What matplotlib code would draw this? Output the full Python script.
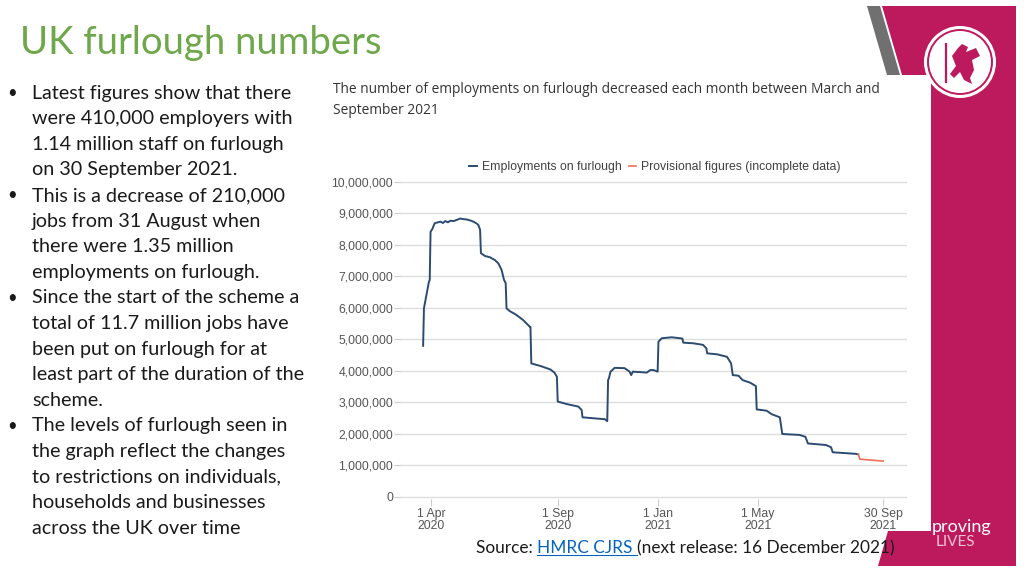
import matplotlib
matplotlib.use("Agg")
import matplotlib.pyplot as plt
import pandas as pd
from matplotlib.patches import Polygon, Circle
from matplotlib.ticker import FuncFormatter

# Employments on furlough (millions)
furlough_dates = [
    "2020-03-22", "2020-03-23", "2020-03-26", "2020-03-29", "2020-03-30", "2020-03-31",
    "2020-04-02", "2020-04-05", "2020-04-09", "2020-04-12", "2020-04-15", "2020-04-18",
    "2020-04-21", "2020-04-24", "2020-04-28", "2020-05-02", "2020-05-06", "2020-05-10",
    "2020-05-14", "2020-05-18", "2020-05-22", "2020-05-26", "2020-05-28", "2020-05-30",
    "2020-05-31", "2020-06-05", "2020-06-11", "2020-06-17", "2020-06-21", "2020-06-25",
    "2020-06-28", "2020-06-30", "2020-07-01", "2020-07-05", "2020-07-13", "2020-07-21",
    "2020-07-29", "2020-07-30", "2020-07-31", "2020-08-11", "2020-08-23", "2020-08-28",
    "2020-08-31", "2020-09-01", "2020-09-12", "2020-09-26", "2020-09-30", "2020-10-01",
    "2020-10-14", "2020-10-28", "2020-10-31", "2020-11-01", "2020-11-02", "2020-11-04",
    "2020-11-09", "2020-11-21", "2020-11-27", "2020-11-29", "2020-12-01", "2020-12-18",
    "2020-12-22", "2020-12-26", "2020-12-31", "2021-01-01", "2021-01-05", "2021-01-17",
    "2021-01-27", "2021-01-30", "2021-01-31", "2021-02-12", "2021-02-24", "2021-02-28",
    "2021-03-01", "2021-03-13", "2021-03-25", "2021-03-30", "2021-04-01", "2021-04-08",
    "2021-04-13", "2021-04-22", "2021-04-29", "2021-04-30", "2021-05-12", "2021-05-18",
    "2021-05-28", "2021-05-31", "2021-06-21", "2021-06-28", "2021-07-01", "2021-07-23",
    "2021-07-29", "2021-07-31", "2021-08-28", "2021-08-31",
]
furlough_millions = [
    4.80, 5.99, 6.41, 6.83, 6.89, 8.42,
    8.50, 8.69, 8.72, 8.74, 8.70, 8.76,
    8.72, 8.77, 8.76, 8.80, 8.84, 8.82,
    8.81, 8.78, 8.74, 8.68, 8.63, 8.48,
    7.74, 7.65, 7.61, 7.52, 7.42, 7.21,
    6.89, 6.79, 5.99, 5.90, 5.78, 5.62,
    5.41, 5.40, 4.24, 4.16, 4.05, 3.95,
    3.82, 3.03, 2.95, 2.87, 2.76, 2.53,
    2.50, 2.47, 2.41, 3.71, 3.77, 3.98,
    4.10, 4.09, 3.98, 3.87, 3.98, 3.95,
    4.03, 4.03, 3.98, 4.93, 5.04, 5.07,
    5.04, 5.03, 4.90, 4.88, 4.83, 4.72,
    4.56, 4.53, 4.45, 4.24, 3.87, 3.85,
    3.71, 3.63, 3.52, 2.78, 2.74, 2.63,
    2.53, 2.00, 1.97, 1.91, 1.70, 1.65,
    1.58, 1.42, 1.37, 1.35,
]

# Provisional figures (incomplete data)
provisional_dates = ["2021-08-31", "2021-09-02", "2021-09-30"]
provisional_millions = [1.35, 1.20, 1.14]

tick_dates = ["2020-04-01", "2020-09-01", "2021-01-01", "2021-05-01", "2021-09-30"]
tick_labels = ["1 Apr\n2020", "1 Sep\n2020", "1 Jan\n2021", "1 May\n2021", "30 Sep\n2021"]

bullet_lines = [
    (True, "Latest figures show that there"),
    (False, "were 410,000 employers with"),
    (False, "1.14 million staff on furlough"),
    (False, "on 30 September 2021."),
    (True, "This is a decrease of 210,000"),
    (False, "jobs from 31 August when"),
    (False, "there were 1.35 million"),
    (False, "employments on furlough."),
    (True, "Since the start of the scheme a"),
    (False, "total of 11.7 million jobs have"),
    (False, "been put on furlough for at"),
    (False, "least part of the duration of the"),
    (False, "scheme."),
    (True, "The levels of furlough seen in"),
    (False, "the graph reflect the changes"),
    (False, "to restrictions on individuals,"),
    (False, "households and businesses"),
    (False, "across the UK over time"),
]

W, H = 1024, 576
MAGENTA = "#bd1a5e"
BLUE = "#2b4b70"
RED = "#ee6f5a"


def fx(px):
    return px / W


def fy(py):
    return 1 - py / H


fig = plt.figure(figsize=(10.24, 5.76), dpi=100)
fig.patch.set_facecolor("white")

# overlay in pixel coordinates for the slide decoration
deco = fig.add_axes([0, 0, 1, 1])
deco.set_xlim(0, W)
deco.set_ylim(H, 0)
deco.axis("off")

deco.add_patch(Polygon([(882, 6), (1016, 6), (1016, 566), (878, 566), (888, 531),
                        (931, 531), (931, 75), (902, 75)], closed=True,
                       facecolor=MAGENTA, edgecolor="none"))
deco.add_patch(Polygon([(867, 6), (880, 6), (900, 75), (887, 75)], closed=True,
                       facecolor="#707070", edgecolor="none"))
deco.add_patch(Circle((960, 62), 36, facecolor="white", edgecolor="none"))
deco.add_patch(Circle((960, 62), 32, facecolor="none", edgecolor=MAGENTA, lw=1.4))
# rough dragon silhouette
deco.add_patch(Polygon([(952, 56), (958, 48), (962, 44), (968, 47), (966, 52), (976, 48),
                        (980, 56), (972, 60), (974, 70), (970, 78), (972, 84), (964, 80),
                        (960, 72), (954, 78), (950, 74), (956, 66)], closed=True,
                       facecolor=MAGENTA, edgecolor="none"))
deco.plot([946, 946], [44, 82], color=MAGENTA, lw=1.6)
deco.text(932, 527, "proving", color="white", fontsize=13, family="Lato",
          ha="left", va="center")
deco.text(936, 542, "LIVES", color="#f0bfd3", fontsize=11, family="Lato",
          ha="left", va="center")

# slide title and bullets
fig.text(fx(20), fy(43), "UK furlough numbers", color="#6ea84a", fontsize=27.5,
         family="Lato", ha="left", va="center")

for i, (is_bullet, line) in enumerate(bullet_lines):
    y = 93 + i * 25.6
    if is_bullet:
        fig.text(fx(7), fy(y), "•", fontsize=12, color="#1a1a1a", family="Lato",
                 ha="left", va="center")
    fig.text(fx(32), fy(y), line, fontsize=14.2, color="#1a1a1a", family="Lato",
             ha="left", va="center")

# chart title
fig.text(fx(333), fy(100), "The number of employments on furlough decreased each month between March and\nSeptember 2021",
         fontsize=9.9, color="#333333", family="Open Sans", ha="left", va="center",
         linespacing=1.5)

# chart
y_top, y_bot = 182, 497
px_per_m = (y_bot - y_top) / 10.0
ax = fig.add_axes([fx(400), fy(y_bot + 0.05 * px_per_m),
                   fx(907) - fx(400), (y_bot - y_top + 0.1 * px_per_m) / H])
ax.set_ylim(-0.05e6, 10.05e6)
ax.set_xlim(pd.Timestamp("2020-02-23"), pd.Timestamp("2021-10-29"))

ax.plot(pd.to_datetime(furlough_dates), [v * 1e6 for v in furlough_millions],
        color=BLUE, lw=1.4, label="Employments on furlough", zorder=3)
ax.plot(pd.to_datetime(provisional_dates), [v * 1e6 for v in provisional_millions],
        color=RED, lw=1.2, label="Provisional figures (incomplete data)", zorder=3)

ax.set_yticks([i * 1e6 for i in range(11)])
ax.yaxis.set_major_formatter(FuncFormatter(lambda v, p: f"{v:,.0f}"))
ax.set_xticks(pd.to_datetime(tick_dates))
ax.set_xticklabels(tick_labels, linespacing=1.0)
ax.grid(axis="y", color="#dddddd", lw=1)
ax.set_axisbelow(True)
for s in ax.spines.values():
    s.set_visible(False)
ax.tick_params(axis="y", length=4, width=0.8, color="#cccccc", pad=1,
               labelsize=8.8, labelcolor="#555555")
ax.tick_params(axis="x", length=5, width=0.8, color="#cccccc", pad=2,
               labelsize=8.8, labelcolor="#555555")
for lab in ax.get_xticklabels() + ax.get_yticklabels():
    lab.set_family("Liberation Sans")

leg = fig.legend(loc="center", bbox_to_anchor=(fx(655), fy(167)), ncol=2,
                 frameon=False, handlelength=0.6, handletextpad=0.4,
                 columnspacing=0.6, prop={"family": "Liberation Sans", "size": 8.8})
for t in leg.get_texts():
    t.set_color("#404040")

# source line with link-styled part
fig.canvas.draw()
renderer = fig.canvas.get_renderer()
src_y = fy(548)
x_cur = fx(476)
pieces = [("Source: ", "#1a1a1a", False), ("HMRC CJRS ", "#0563c1", True),
          ("(next release: 16 December 2021)", "#1a1a1a", False)]
for txt, col, underline in pieces:
    t = fig.text(x_cur, src_y, txt, fontsize=12.4, color=col, family="Lato",
                 ha="left", va="center")
    bb = t.get_window_extent(renderer=renderer)
    if underline:
        fig.add_artist(plt.Line2D([bb.x0 / W, bb.x1 / W], [bb.y0 / H + 0.002] * 2,
                                  color=col, lw=0.8))
    x_cur = bb.x1 / W

fig.savefig("out.png", dpi=100)
